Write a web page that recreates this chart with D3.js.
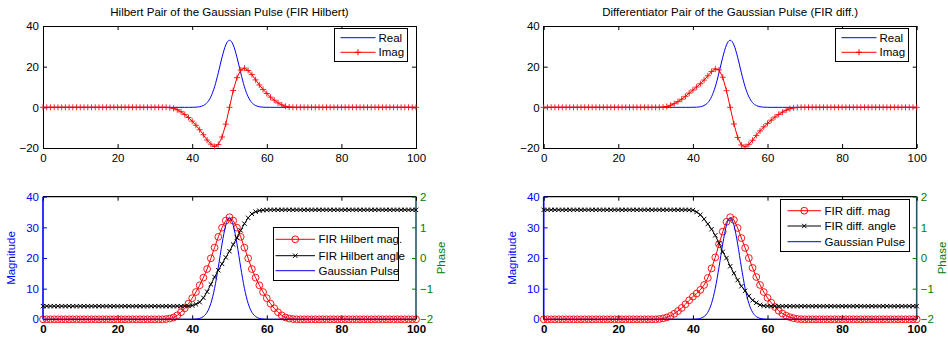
<!DOCTYPE html>
<html>
<head>
<meta charset="utf-8">
<script src="https://cdn.jsdelivr.net/npm/d3@7"></script>
<style>
  html, body { margin: 0; padding: 0; background: #fff; }
  svg { display: block; font-family: "Liberation Sans", Arial, Helvetica, sans-serif; }
</style>
</head>
<body>
<svg id="fig" width="948" height="339"></svg>
<script>
// ---- data -------------------------------------------------------------
const sampleIndex = d3.range(0, 101);

const xTicks = [0, 20, 40, 60, 80, 100];
const pairTicks = [-20, 0, 20, 40];
const magTicks = [0, 10, 20, 30, 40];
const phaseTicks = [-2, -1, 0, 1, 2];

const titles = [
  "Hilbert Pair of the Gaussian Pulse (FIR Hilbert)",
  "Differentiator Pair of the Gaussian Pulse (FIR diff.)"
];
const pairLegend = ["Real", "Imag"];
const hilbertLegend = ["FIR Hilbert mag.", "FIR Hilbert angle", "Gaussian Pulse"];
const diffLegend = ["FIR diff. mag", "FIR diff. angle", "Gaussian Pulse"];

// Gaussian pulse (real part), samples 0..100
const gaussianPulse = [
  0,0,0,0,0,0,0,0,0,0,
  0,0,0,0,0,0,0,0,0,0,
  0,0,0,0,0,0,0,0,0,0,
  0,0,0,0,0,0,0,0,0,0,
  0.02,0.08,0.3,0.9,2.3,5.2,10.1,17.0,24.6,30.7,
  33.0,
  30.7,24.6,17.0,10.1,5.2,2.3,0.9,0.3,0.08,0.02,
  0,0,0,0,0,0,0,0,0,0,
  0,0,0,0,0,0,0,0,0,0,
  0,0,0,0,0,0,0,0,0,0,
  0,0,0,0,0,0,0,0,0,0
];

// FIR Hilbert output (imaginary part)
const hilbertImag = [
  0,0,0,0,0,0,0,0,0,0,
  0,0,0,0,0,0,0,0,0,0,
  0,0,0,0,0,0,0,0,0,0,
  0,0,0,0,-0.15,-0.5,-1.2,-2.2,-3.5,-5.0,
  -6.8,-8.8,-11.0,-13.5,-16.1,-18.1,-19.3,-18.3,-14.6,-8.3,
  0,
  8.3,14.6,18.3,19.3,18.1,16.1,13.5,11.0,8.8,6.8,
  5.0,3.5,2.2,1.2,0.5,0.15,0,0,0,0,
  0,0,0,0,0,0,0,0,0,0,
  0,0,0,0,0,0,0,0,0,0,
  0,0,0,0,0,0,0,0,0,0
];

// FIR differentiator output (imaginary part)
const diffImag = [
  0,0,0,0,0,0,0,0,0,0,
  0,0,0,0,0,0,0,0,0,0,
  0,0,0,0,0,0,0,0,0,0,
  0,0,0.1,0.4,1.0,1.8,2.8,4.0,5.4,7.0,
  8.5,10.0,11.6,13.4,15.5,17.6,18.9,18.4,14.8,8.2,
  0,
  -8.2,-14.8,-18.5,-19.4,-18.2,-16.2,-13.8,-11.6,-9.6,-7.9,
  -6.3,-4.8,-3.5,-2.4,-1.4,-0.7,-0.25,-0.05,0,0,
  0,0,0,0,0,0,0,0,0,0,
  0,0,0,0,0,0,0,0,0,0,
  0,0,0,0,0,0,0,0,0,0
];

// Analytic-signal magnitude (Hilbert)
const hilbertMag = [
  0,0,0,0,0,0,0,0,0,0,
  0,0,0,0,0,0,0,0,0,0,
  0,0,0,0,0,0,0,0,0,0,
  0,0,0,0.08,0.25,0.6,1.3,2.3,3.6,5.1,
  6.9,8.9,11.1,13.6,16.4,19.9,23.4,26.9,29.9,32.2,
  33.3,
  32.2,29.9,26.9,23.4,19.9,16.4,13.6,11.1,8.9,6.9,
  5.1,3.6,2.3,1.3,0.6,0.25,0.08,0,0,0,
  0,0,0,0,0,0,0,0,0,0,
  0,0,0,0,0,0,0,0,0,0,
  0,0,0,0,0,0,0,0,0,0
];

// Analytic-signal phase (Hilbert), radians
const hilbertAngle = [
  -1.571,-1.571,-1.571,-1.571,-1.571,-1.571,-1.571,-1.571,-1.571,-1.571,
  -1.571,-1.571,-1.571,-1.571,-1.571,-1.571,-1.571,-1.571,-1.571,-1.571,
  -1.571,-1.571,-1.571,-1.571,-1.571,-1.571,-1.571,-1.571,-1.571,-1.571,
  -1.571,-1.571,-1.571,-1.571,-1.571,-1.571,-1.571,-1.571,-1.571,-1.566,
  -1.55,-1.51,-1.44,-1.30,-1.10,-0.86,-0.62,-0.40,-0.19,0.02,
  0.22,
  0.44,0.66,0.90,1.12,1.31,1.44,1.51,1.545,1.56,1.566,
  1.571,1.571,1.571,1.571,1.571,1.571,1.571,1.571,1.571,1.571,
  1.571,1.571,1.571,1.571,1.571,1.571,1.571,1.571,1.571,1.571,
  1.571,1.571,1.571,1.571,1.571,1.571,1.571,1.571,1.571,1.571,
  1.571,1.571,1.571,1.571,1.571,1.571,1.571,1.571,1.571,1.571
];

// Magnitude (differentiator)
const diffMag = [
  0,0,0,0,0,0,0,0,0,0,
  0,0,0,0,0,0,0,0,0,0,
  0,0,0,0,0,0,0,0,0,0,
  0,0.1,0.3,0.6,1.1,1.8,2.7,3.7,4.9,6.2,
  7.4,8.4,9.6,11.2,13.5,16.6,20.2,24.5,28.6,31.8,
  33.3,
  32.4,29.8,26.5,23.3,20.0,16.8,13.8,11.2,8.9,7.0,
  5.4,4.0,2.8,1.9,1.2,0.7,0.35,0.12,0.03,0,
  0,0,0,0,0,0,0,0,0,0,
  0,0,0,0,0,0,0,0,0,0,
  0,0,0,0,0,0,0,0,0,0
];

// Phase (differentiator), radians
const diffAngle = [
  1.571,1.571,1.571,1.571,1.571,1.571,1.571,1.571,1.571,1.571,
  1.571,1.571,1.571,1.571,1.571,1.571,1.571,1.571,1.571,1.571,
  1.571,1.571,1.571,1.571,1.571,1.571,1.571,1.571,1.571,1.571,
  1.571,1.571,1.571,1.571,1.571,1.571,1.571,1.571,1.571,1.568,
  1.56,1.50,1.41,1.27,1.11,0.94,0.74,0.48,0.20,0.0,
  -0.27,
  -0.50,-0.72,-0.92,-1.07,-1.24,-1.38,-1.46,-1.53,-1.56,-1.571,
  -1.571,-1.571,-1.571,-1.571,-1.571,-1.571,-1.571,-1.571,-1.571,-1.571,
  -1.571,-1.571,-1.571,-1.571,-1.571,-1.571,-1.571,-1.571,-1.571,-1.571,
  -1.571,-1.571,-1.571,-1.571,-1.571,-1.571,-1.571,-1.571,-1.571,-1.571,
  -1.571,-1.571,-1.571,-1.571,-1.571,-1.571,-1.571,-1.571,-1.571,-1.571
];

// ---- drawing ----------------------------------------------------------
const svg = d3.select("#fig");
const FONT = 11.5;
const BLUE = "#0000ff", RED = "#ff0000", GREEN = "#008000", TEAL = "#21586b";
const intFormat = d3.format("d");

const plusPath = "M-3,0H3M0,-3V3";
const crossPath = "M-2.2,-2.2L2.2,2.2M-2.2,2.2L2.2,-2.2";

function pathFor(x, y, values, curve) {
  const ln = d3.line().x((d, i) => x(sampleIndex[i])).y(d => y(d));
  if (curve) ln.curve(curve);
  return ln(values);
}

function styleAxis(sel, color, bold) {
  sel.select(".domain").remove();
  sel.selectAll(".tick line").attr("stroke", color || "#000");
  sel.selectAll(".tick text")
    .attr("fill", color || "#000")
    .attr("font-size", FONT)
    .attr("font-family", '"Liberation Sans", Arial, sans-serif')
    .attr("font-weight", bold ? "bold" : "normal");
}

function legendBox(g, box, entries) {
  g.append("rect")
    .attr("x", box.x).attr("y", box.y).attr("width", box.w).attr("height", box.h)
    .attr("fill", "#fff").attr("stroke", "#000").attr("stroke-width", 1)
    .attr("shape-rendering", "crispEdges");
  entries.forEach((e, i) => {
    const cy = box.rowY[i];
    g.append("line")
      .attr("x1", box.lx0).attr("x2", box.lx1).attr("y1", cy).attr("y2", cy)
      .attr("stroke", e.color).attr("stroke-width", 1);
    const mx = (box.lx0 + box.lx1) / 2;
    if (e.marker === "plus" || e.marker === "cross") {
      g.append("path").attr("d", e.marker === "plus" ? plusPath : crossPath)
        .attr("transform", `translate(${mx},${cy})`)
        .attr("stroke", e.color).attr("fill", "none");
    } else if (e.marker === "circle") {
      g.append("circle").attr("cx", mx).attr("cy", cy).attr("r", 3.4)
        .attr("stroke", e.color).attr("fill", "none");
    }
    g.append("text")
      .attr("x", box.tx).attr("y", cy).attr("dy", "0.36em")
      .attr("font-size", FONT).attr("fill", "#000")
      .text(e.label);
  });
}

function topPanel(left, title, imag, legendX) {
  const right = left + 373, top = 26, bottom = 148;
  const x = d3.scaleLinear().domain([0, 100]).range([left, right]);
  const y = d3.scaleLinear().domain([-20, 40]).range([bottom, top]);
  const g = svg.append("g");

  g.append("text")
    .attr("x", (left + right) / 2).attr("y", 16)
    .attr("text-anchor", "middle").attr("font-size", FONT)
    .text(title);

  g.append("rect")
    .attr("x", x(0)).attr("y", y(40))
    .attr("width", x(100) - x(0)).attr("height", y(-20) - y(40))
    .attr("fill", "#fff").attr("stroke", "#000").attr("stroke-width", 1)
    .attr("shape-rendering", "crispEdges");

  styleAxis(g.append("g").attr("transform", `translate(0,${bottom})`)
    .call(d3.axisBottom(x).tickValues(xTicks).tickSize(-4).tickPadding(6).tickFormat(intFormat)));
  styleAxis(g.append("g").attr("transform", `translate(0,${top})`)
    .call(d3.axisTop(x).tickValues(xTicks).tickSize(-4).tickFormat("")));
  styleAxis(g.append("g").attr("transform", `translate(${left},0)`)
    .call(d3.axisLeft(y).tickValues(pairTicks).tickSize(-4).tickPadding(4).tickFormat(intFormat)));
  styleAxis(g.append("g").attr("transform", `translate(${right},0)`)
    .call(d3.axisRight(y).tickValues(pairTicks).tickSize(-4).tickFormat("")));

  // real part
  g.append("path").attr("d", pathFor(x, y, gaussianPulse, d3.curveMonotoneX))
    .attr("fill", "none").attr("stroke", BLUE).attr("stroke-width", 1);
  // imaginary part with + markers
  g.append("path").attr("d", pathFor(x, y, imag))
    .attr("fill", "none").attr("stroke", RED).attr("stroke-width", 1);
  g.append("g").selectAll("path").data(imag).join("path")
    .attr("d", plusPath)
    .attr("transform", (d, i) => `translate(${x(sampleIndex[i])},${y(d)})`)
    .attr("stroke", RED).attr("stroke-opacity", 0.85).attr("fill", "none");

  legendBox(g, {
    x: legendX, y: 28.5, w: 73, h: 33,
    rowY: [37.7, 52.3], lx0: legendX + 6, lx1: legendX + 41, tx: legendX + 44
  }, [
    { label: pairLegend[0], color: BLUE },
    { label: pairLegend[1], color: RED, marker: "plus" }
  ]);
}

function bottomPanel(left, mag, angle, labels, legend) {
  const right = left + 373, top = 196.7, bottom = 319.3;
  const x = d3.scaleLinear().domain([0, 100]).range([left, right]);
  const yMag = d3.scaleLinear().domain([0, 40]).range([bottom, top]);
  const yPh = d3.scaleLinear().domain([-2, 2]).range([bottom, top]);
  const g = svg.append("g");

  g.append("rect")
    .attr("x", x(0)).attr("y", top)
    .attr("width", x(100) - x(0)).attr("height", bottom - top)
    .attr("fill", "#fff");

  // frame: black top/bottom, blue left, teal right
  g.append("line").attr("x1", left).attr("x2", right).attr("y1", top).attr("y2", top)
    .attr("stroke", "#000").attr("stroke-width", 1.3);
  g.append("line").attr("x1", left).attr("x2", right).attr("y1", bottom).attr("y2", bottom)
    .attr("stroke", "#000").attr("stroke-width", 1.3);
  g.append("line").attr("x1", left).attr("x2", left).attr("y1", top).attr("y2", bottom)
    .attr("stroke", BLUE).attr("stroke-width", 1.6);
  g.append("line").attr("x1", right).attr("x2", right).attr("y1", top).attr("y2", bottom)
    .attr("stroke", TEAL).attr("stroke-width", 1.6);

  styleAxis(g.append("g").attr("transform", `translate(0,${bottom})`)
    .call(d3.axisBottom(x).tickValues(xTicks).tickSize(-4).tickPadding(6).tickFormat(intFormat)), "#000", true);
  styleAxis(g.append("g").attr("transform", `translate(0,${top})`)
    .call(d3.axisTop(x).tickValues(xTicks).tickSize(-4).tickFormat("")));
  styleAxis(g.append("g").attr("transform", `translate(${left},0)`)
    .call(d3.axisLeft(yMag).tickValues(magTicks).tickSize(-4).tickPadding(4).tickFormat(intFormat)), BLUE);
  styleAxis(g.append("g").attr("transform", `translate(${right},0)`)
    .call(d3.axisRight(yPh).tickValues(phaseTicks).tickSize(-4).tickPadding(4).tickFormat(intFormat)), GREEN);

  g.append("text")
    .attr("transform", `translate(${left - 28},${(top + bottom) / 2}) rotate(-90)`)
    .attr("text-anchor", "middle").attr("font-size", FONT).attr("fill", BLUE)
    .text("Magnitude");
  g.append("text")
    .attr("transform", `translate(${right + 29},${(top + bottom) / 2}) rotate(-90)`)
    .attr("text-anchor", "middle").attr("font-size", FONT).attr("fill", GREEN)
    .text("Phase");

  // magnitude with circle markers
  g.append("path").attr("d", pathFor(x, yMag, mag))
    .attr("fill", "none").attr("stroke", RED).attr("stroke-width", 1);
  g.append("g").selectAll("circle").data(mag).join("circle")
    .attr("cx", (d, i) => x(sampleIndex[i])).attr("cy", d => yMag(d)).attr("r", 3.4)
    .attr("stroke", RED).attr("stroke-opacity", 0.9).attr("fill", "none");

  // gaussian pulse
  g.append("path").attr("d", pathFor(x, yMag, gaussianPulse, d3.curveMonotoneX))
    .attr("fill", "none").attr("stroke", BLUE).attr("stroke-width", 1);

  // phase with x markers
  g.append("path").attr("d", pathFor(x, yPh, angle))
    .attr("fill", "none").attr("stroke", "#000").attr("stroke-width", 1);
  g.append("g").selectAll("path").data(angle).join("path")
    .attr("d", crossPath)
    .attr("transform", (d, i) => `translate(${x(sampleIndex[i])},${yPh(d)})`)
    .attr("stroke", "#000").attr("fill", "none");

  legendBox(g, legend, [
    { label: labels[0], color: RED, marker: "circle" },
    { label: labels[1], color: "#000", marker: "cross" },
    { label: labels[2], color: BLUE }
  ]);
}

topPanel(43, titles[0], hilbertImag, 334.5);
topPanel(543.7, titles[1], diffImag, 835.5);

bottomPanel(43, hilbertMag, hilbertAngle, hilbertLegend, {
  x: 273.5, y: 227.5, w: 125, h: 53,
  rowY: [239.3, 255.7, 270.7], lx0: 275.5, lx1: 315, tx: 318.5
});
bottomPanel(543.7, diffMag, diffAngle, diffLegend, {
  x: 780.5, y: 199.5, w: 128.5, h: 52,
  rowY: [210.7, 226, 241.7], lx0: 787.5, lx1: 821, tx: 824.5
});
</script>
</body>
</html>
